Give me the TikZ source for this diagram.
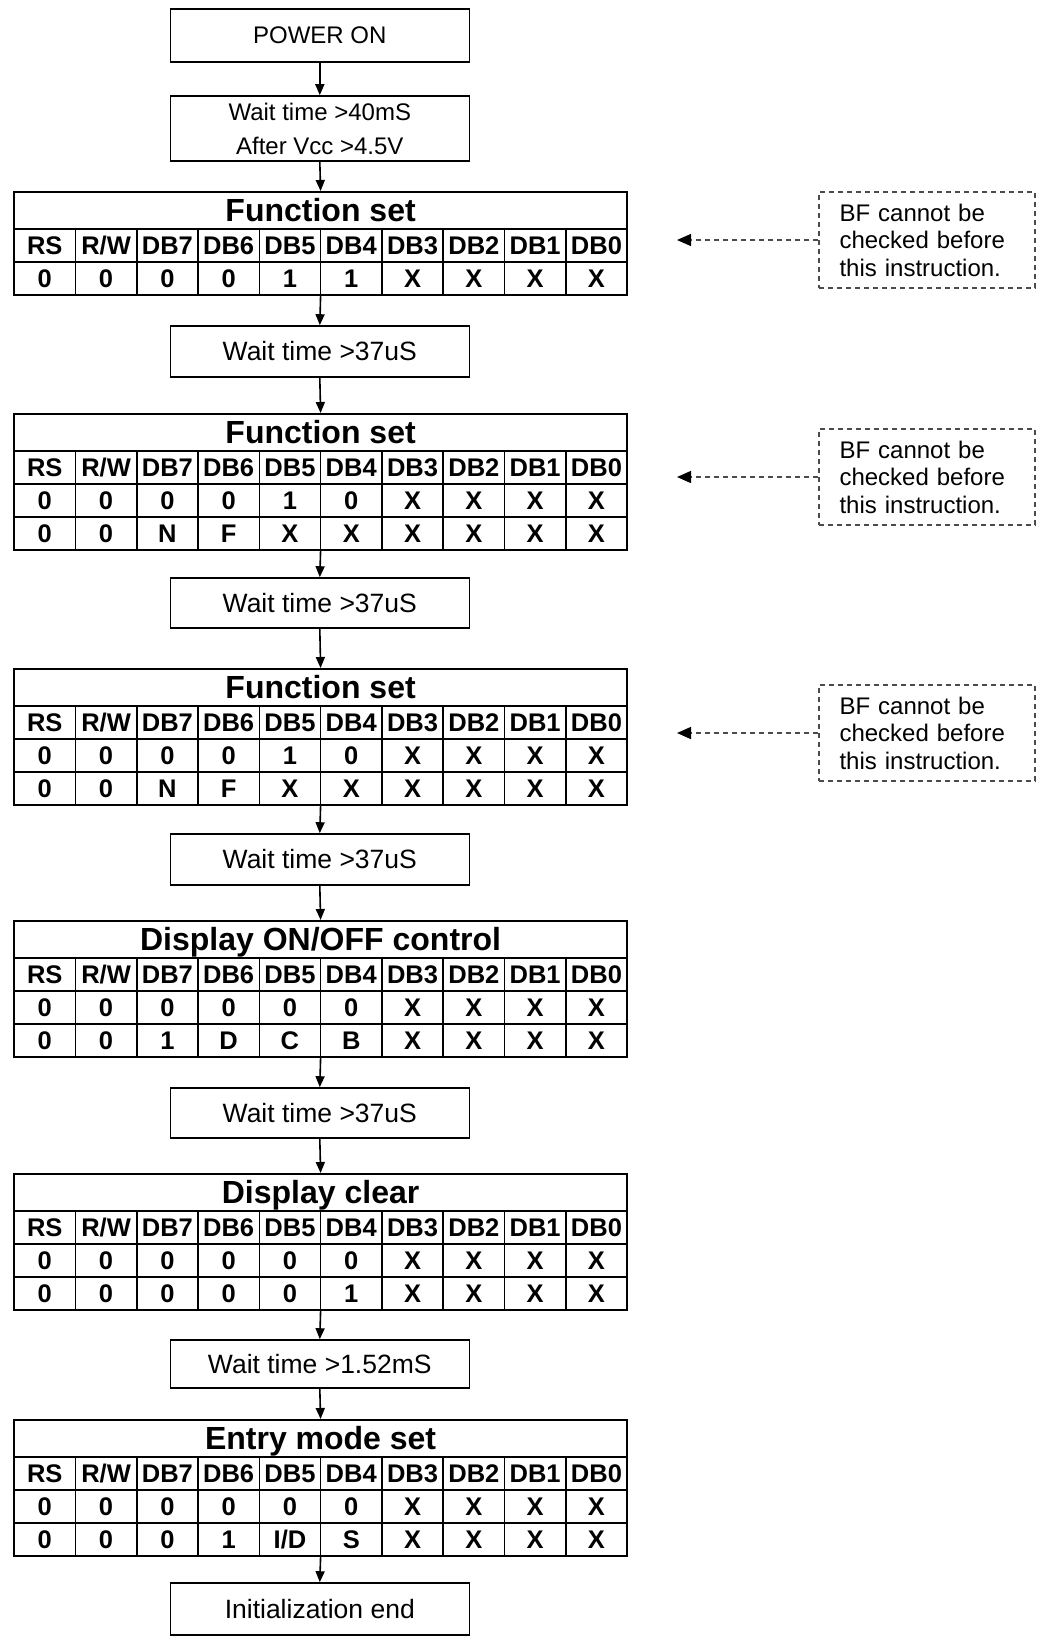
\documentclass[tikz,border=0pt]{standalone}
\usepackage{fontspec}
\setmainfont{Liberation Sans}
\usetikzlibrary{arrows.meta}
\definecolor{dgray}{RGB}{75,75,75}
\tikzset{
  lw/.style={line width=1.6pt},
  flowbox/.style={draw, lw, minimum width=299pt, inner sep=0pt, align=center,
    font=\fontsize{26.5}{34}\selectfont},
  cell/.style={draw, lw, minimum width=61.3pt, minimum height=33pt, inner sep=0pt,
    text height=17.5pt, text depth=0pt, font=\bfseries\fontsize{25.5}{25.5}\selectfont},
  titlecell/.style={draw, lw, minimum width=613pt, minimum height=37pt, inner sep=0pt,
    text height=23pt, text depth=0pt, font=\bfseries\fontsize{32}{32}\selectfont},
  tblframe/.style={draw, lw, minimum width=613pt, inner sep=0pt},
  flow/.style={lw, -{Triangle[length=11pt,width=9pt]}},
  dbox/.style={draw=dgray, line width=1.4pt, dash pattern=on 5pt off 4pt,
    minimum width=216pt, minimum height=96pt, inner sep=2pt, text width=175pt,
    align=left, font=\fontsize{24}{27.5}\selectfont},
  darrow/.style={draw=dgray, line width=1.4pt, dash pattern=on 5pt off 4pt,
    -{Triangle[length=14pt,width=12pt,color=black]}}
}
\newcommand\cellrow[3]{%
  \foreach \t [count=\i from 0] in {#3} {
    \node[cell, anchor=north west] (#1-\i) at ({13.3+61.3*\i}, {#2}) {\t};
  }%
}
\newcommand\regtable[4]{% name, top, title, height
  \node[tblframe, minimum height=#4pt, anchor=north west] (#1) at (13.3,#2) {};
  \node[titlecell, anchor=north west] (#1-title) at (13.3,#2) {#3};
  \cellrow{#1-h}{#2+37}{RS,{R/W},DB7,DB6,DB5,DB4,DB3,DB2,DB1,DB0}%
}
\begin{document}
\begin{tikzpicture}[x=1pt, y=-1pt]
\useasboundingbox (0,0) rectangle (1041,1641);
\fill[white] (0,0) rectangle (1041,1641);

% boxes
\node[flowbox, minimum height=53pt, font=\fontsize{24}{34}\selectfont] (pwr) at (319.8,35.5) {POWER ON};
\node[flowbox, minimum height=65pt, font=\fontsize{24}{34}\selectfont] (w1) at (319.8,128.5) {Wait time >40mS\\After Vcc >4.5V};
\node[flowbox, minimum height=51pt] (w2) at (319.8,351.5) {Wait time >37uS};
\node[flowbox, minimum height=50pt] (w3) at (319.8,603) {Wait time >37uS};
\node[flowbox, minimum height=51pt] (w4) at (319.8,859.5) {Wait time >37uS};
\node[flowbox, minimum height=50pt] (w5) at (319.8,1113) {Wait time >37uS};
\node[flowbox, minimum height=48pt] (w6) at (319.8,1364) {Wait time >1.52mS};
\node[flowbox, minimum height=52pt] (fin) at (319.8,1609) {Initialization end};

% tables
\regtable{t1}{191}{Function set}{103}
\cellrow{t1-a}{191+70}{0,0,0,0,1,1,X,X,X,X}

\regtable{t2}{413}{Function set}{136}
\cellrow{t2-a}{413+70}{0,0,0,0,1,0,X,X,X,X}
\cellrow{t2-b}{413+103}{0,0,N,F,X,X,X,X,X,X}

\regtable{t3}{668}{Function set}{136}
\cellrow{t3-a}{668+70}{0,0,0,0,1,0,X,X,X,X}
\cellrow{t3-b}{668+103}{0,0,N,F,X,X,X,X,X,X}

\regtable{t4}{920}{Display ON/OFF control}{136}
\cellrow{t4-a}{920+70}{0,0,0,0,0,0,X,X,X,X}
\cellrow{t4-b}{920+103}{0,0,1,D,C,B,X,X,X,X}

\regtable{t5}{1173}{Display clear}{136}
\cellrow{t5-a}{1173+70}{0,0,0,0,0,0,X,X,X,X}
\cellrow{t5-b}{1173+103}{0,0,0,0,0,1,X,X,X,X}

\regtable{t6}{1419}{Entry mode set}{136}
\cellrow{t6-a}{1419+70}{0,0,0,0,0,0,X,X,X,X}
\cellrow{t6-b}{1419+103}{0,0,0,1,{I/D},S,X,X,X,X}

% flow arrows
\draw[flow] (pwr.south) -- (w1.north);
\draw[flow] (w1.south) -- (t1.north);
\draw[flow] (t1.south) -- (w2.north);
\draw[flow] (w2.south) -- (t2.north);
\draw[flow] (t2.south) -- (w3.north);
\draw[flow] (w3.south) -- (t3.north);
\draw[flow] (t3.south) -- (w4.north);
\draw[flow] (w4.south) -- (t4.north);
\draw[flow] (t4.south) -- (w5.north);
\draw[flow] (w5.south) -- (t5.north);
\draw[flow] (t5.south) -- (w6.north);
\draw[flow] (w6.south) -- (t6.north);
\draw[flow] (t6.south) -- (fin.north);

% BF notes
\node[dbox] (bf1) at (927,240) {BF cannot be\\checked before\\this instruction.};
\node[dbox] (bf2) at (927,477) {BF cannot be\\checked before\\this instruction.};
\node[dbox] (bf3) at (927,733) {BF cannot be\\checked before\\this instruction.};
\coordinate (p1) at (677,240);
\coordinate (p2) at (677,477);
\coordinate (p3) at (677,733);
\draw[darrow] (bf1.west) -- (p1);
\draw[darrow] (bf2.west) -- (p2);
\draw[darrow] (bf3.west) -- (p3);
\end{tikzpicture}
\end{document}
